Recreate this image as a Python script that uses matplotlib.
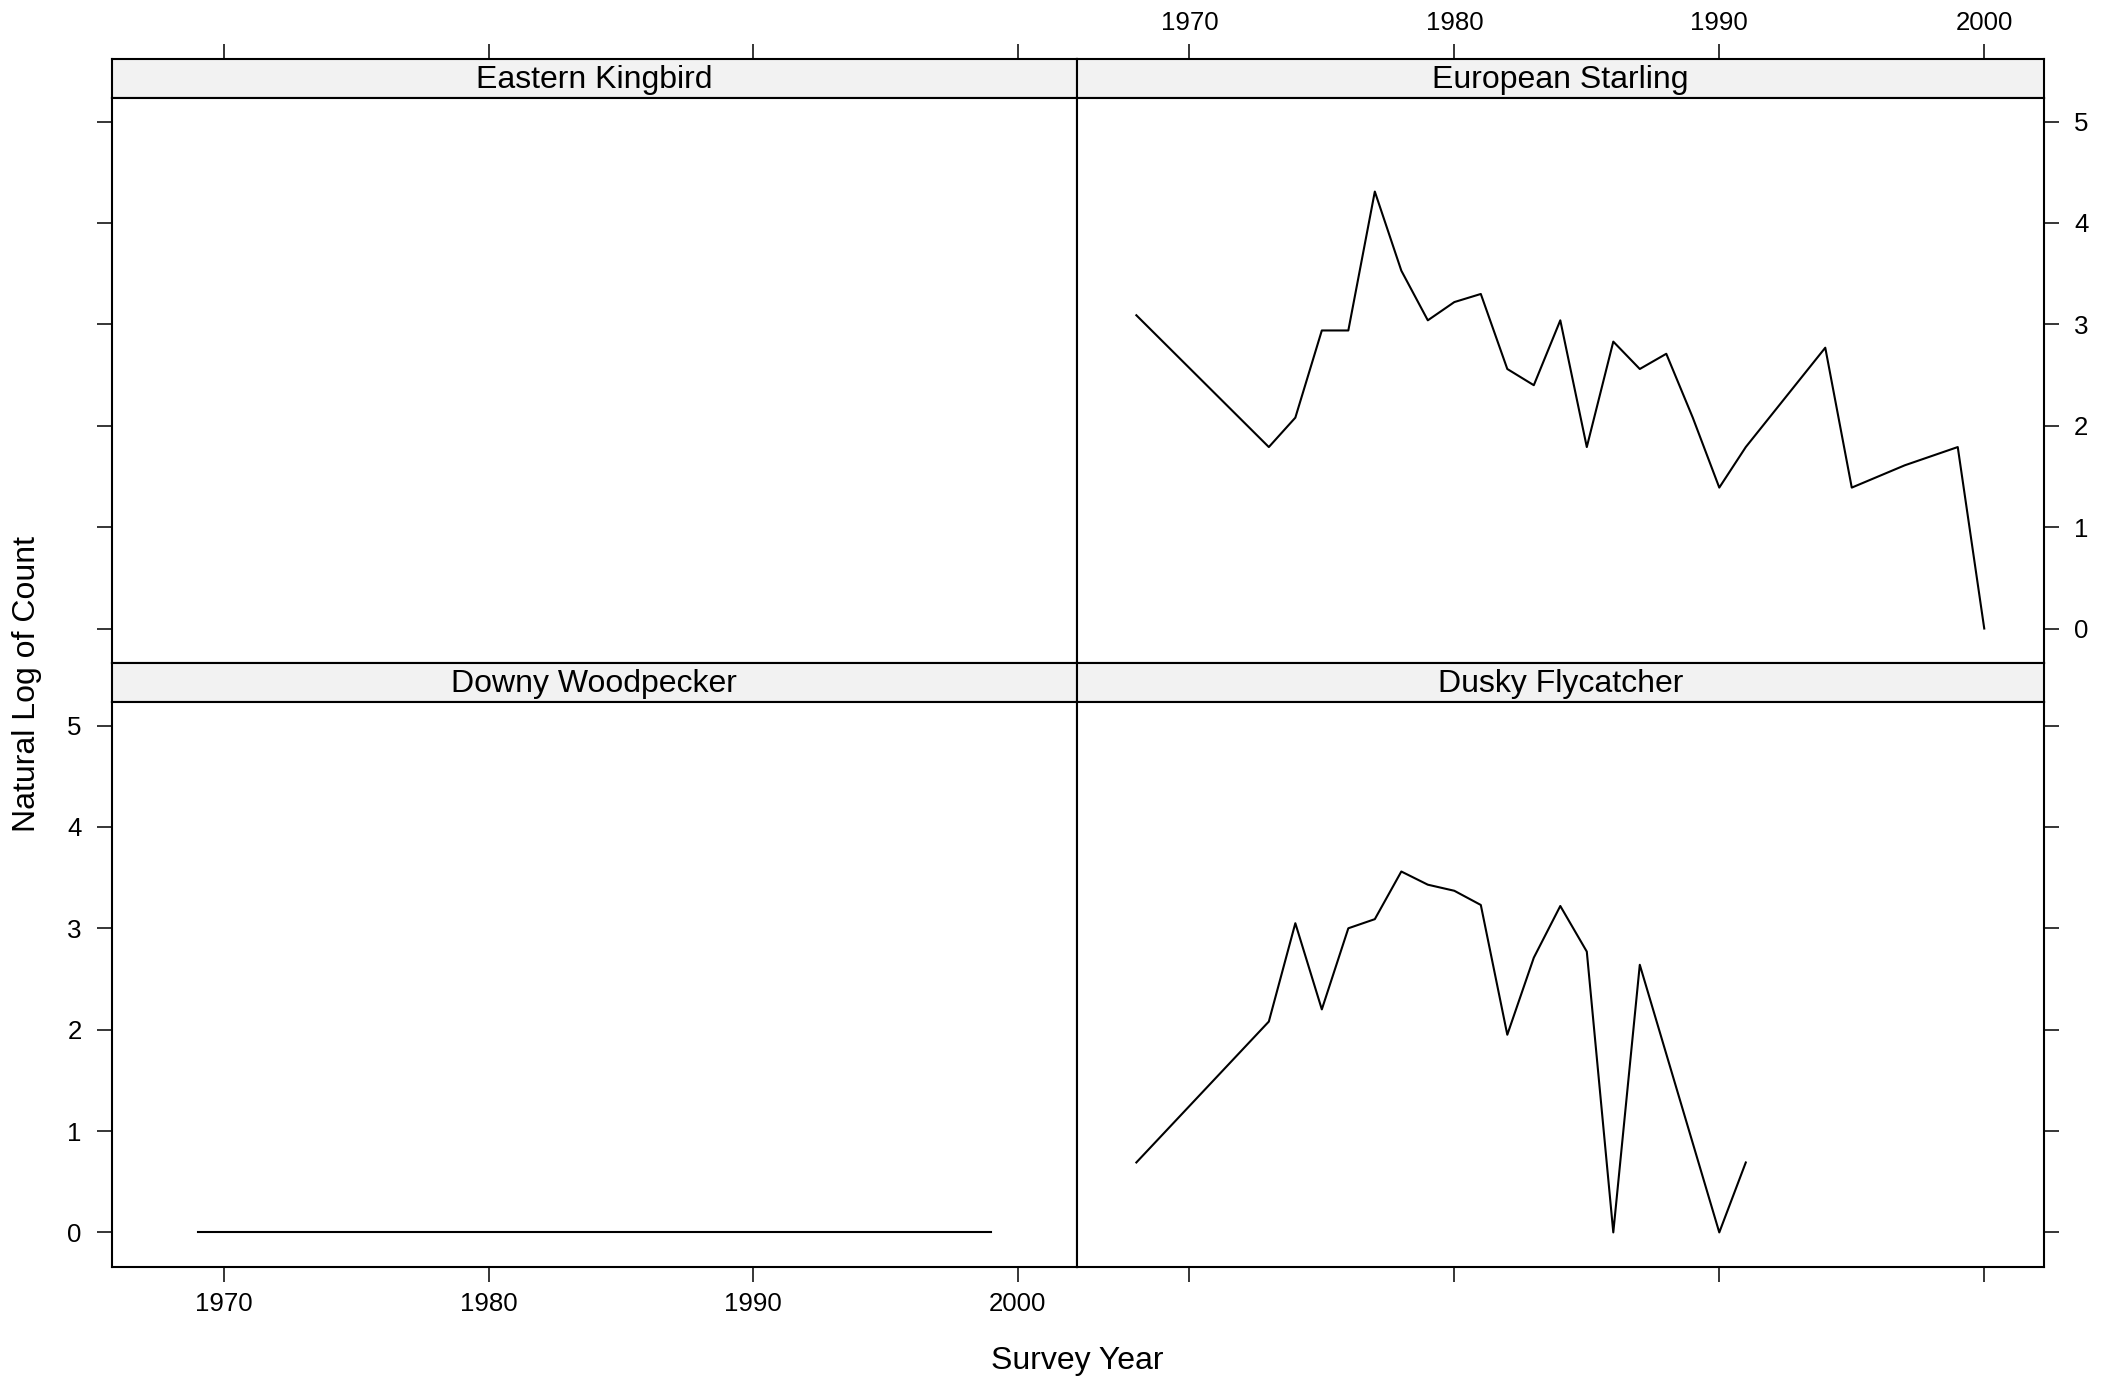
import numpy as np
import matplotlib
matplotlib.use("Agg")
import matplotlib.pyplot as plt

plt.rcParams['font.family'] = ['Liberation Sans', 'DejaVu Sans']

# -----------------------------
# DATA
# -----------------------------
panel_names = ['Eastern Kingbird', 'European Starling', 'Downy Woodpecker', 'Dusky Flycatcher']

kingbird_years = []
kingbird_logcount = []

starling_years = [1968, 1973, 1974, 1975, 1976, 1977, 1978, 1979, 1980, 1981, 1982, 1983,
                  1984, 1985, 1986, 1987, 1988, 1989, 1990, 1991, 1994, 1995, 1997, 1999, 2000]
starling_logcount = [3.09, 1.79, 2.08, 2.94, 2.94, 4.31, 3.53, 3.04, 3.22, 3.30, 2.56, 2.40,
                     3.04, 1.79, 2.83, 2.56, 2.71, 2.08, 1.39, 1.79, 2.77, 1.39, 1.61, 1.79, 0.0]

woodpecker_years = [1969, 1999]
woodpecker_logcount = [0.0, 0.0]

flycatcher_years = [1968, 1973, 1974, 1975, 1976, 1977, 1978, 1979, 1980, 1981, 1982, 1983,
                    1984, 1985, 1986, 1987, 1990, 1991]
flycatcher_logcount = [0.69, 2.08, 3.05, 2.20, 3.00, 3.09, 3.56, 3.43, 3.37, 3.23, 1.95, 2.71,
                       3.22, 2.77, 0.0, 2.64, 0.0, 0.69]

x_ticks = [1970, 1980, 1990, 2000]
y_ticks = [0, 1, 2, 3, 4, 5]
x_label = 'Survey Year'
y_label = 'Natural Log of Count'

XLIM = (1965.76, 2002.24)
YLIM = (-0.342, 5.23)

# -----------------------------
# LAYOUT (pixels on a 2114x1380 canvas)
# -----------------------------
W, H = 2114, 1380
LEFT, MID, RIGHT = 111.8, 1077.0, 2043.6
TOP, ROWMID, BOTTOM = 59.3, 663.2, 1267.5
STRIP = 39.0


def fig_rect(x0, y0, x1, y1):
    return [x0 / W, 1 - y1 / H, (x1 - x0) / W, (y1 - y0) / H]


fig = plt.figure(figsize=(W / 100, H / 100), dpi=100)

cells = [
    (LEFT, MID, TOP),
    (MID, RIGHT, TOP),
    (LEFT, MID, ROWMID),
    (MID, RIGHT, ROWMID),
]
series = [
    (kingbird_years, kingbird_logcount),
    (starling_years, starling_logcount),
    (woodpecker_years, woodpecker_logcount),
    (flycatcher_years, flycatcher_logcount),
]

tick_len = 10.8
tick_w = 1.1
tick_fs = 18.6
label_fs = 23

for i, ((x0, x1, y0), name, (xs, ys)) in enumerate(zip(cells, panel_names, series)):
    y1 = y0 + (ROWMID - TOP)
    is_top = i < 2
    is_left = i % 2 == 0

    # strip (top row strips also carry the top x ticks)
    sax = fig.add_axes(fig_rect(x0, y0, x1, y0 + STRIP))
    sax.set_facecolor('#F2F2F2')
    sax.set_xlim(*XLIM)
    sax.set_yticks([])
    for sp in sax.spines.values():
        sp.set_linewidth(1.5)
    if is_top:
        sax.set_xticks(x_ticks)
        sax.set_xticklabels([str(v) for v in x_ticks])
        sax.tick_params(axis='x', direction='out', length=tick_len, width=tick_w, labelsize=tick_fs,
                        top=True, bottom=False, labeltop=(i == 1), labelbottom=False, pad=7)
    else:
        sax.set_xticks([])
    sax.text(0.5, 0.47, name, ha='center', va='center', fontsize=label_fs, transform=sax.transAxes)

    # panel
    ax = fig.add_axes(fig_rect(x0, y0 + STRIP, x1, y1))
    if len(xs):
        ax.plot(xs, ys, color='black', lw=1.5)
    ax.set_xlim(*XLIM)
    ax.set_ylim(*YLIM)
    ax.set_xticks(x_ticks)
    ax.set_yticks(y_ticks)
    ax.set_xticklabels([str(v) for v in x_ticks])
    ax.set_yticklabels([str(v) for v in y_ticks])
    for sp in ax.spines.values():
        sp.set_linewidth(1.5)

    ax.tick_params(axis='x', direction='out', length=tick_len, width=tick_w, labelsize=tick_fs,
                   top=False, bottom=not is_top,
                   labeltop=False, labelbottom=(i == 2), pad=7)
    ax.tick_params(axis='y', direction='out', length=tick_len, width=tick_w, labelsize=tick_fs,
                   left=is_left, right=not is_left,
                   labelleft=(i == 2), labelright=(i == 1), pad=11)

fig.text(27 / W, 1 - 684 / H, y_label, rotation=90, ha='center', va='center', fontsize=label_fs)
fig.text(1077 / W, 1 - 1361 / H, x_label, ha='center', va='center', fontsize=label_fs)

fig.savefig('out.png', dpi=100)
